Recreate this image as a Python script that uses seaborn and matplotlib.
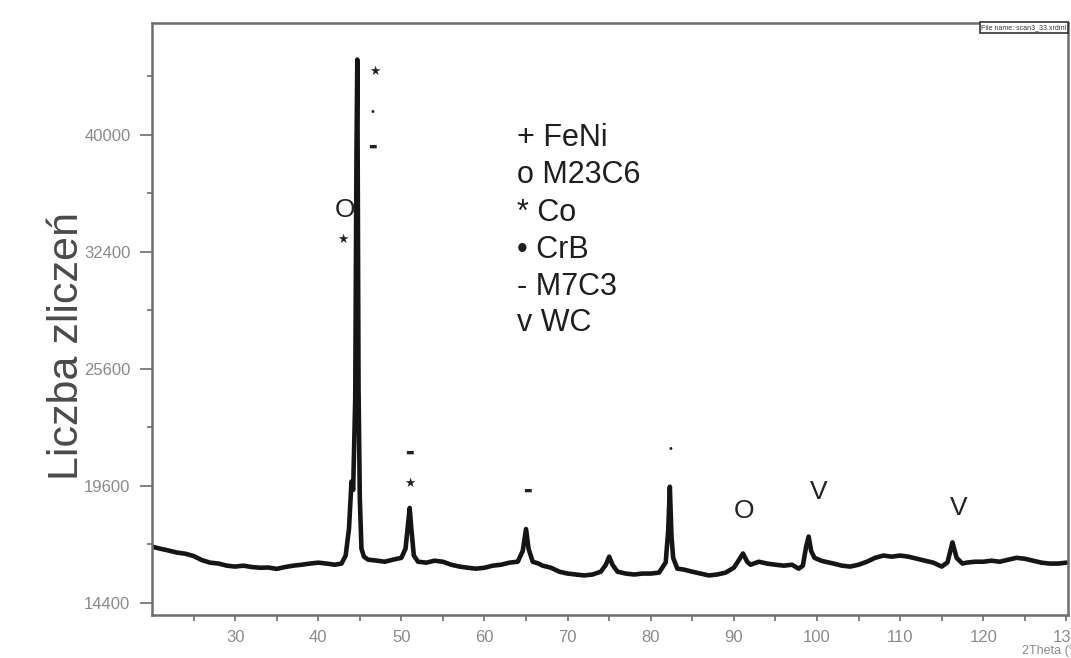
import numpy as np
import pandas as pd
import matplotlib
matplotlib.use("Agg")
import matplotlib.pyplot as plt
import seaborn as sns
from matplotlib.ticker import FixedLocator, NullFormatter

# ---- data ----
two_theta = [20.0, 21.0, 22.0, 23.0, 24.0, 25.0, 26.0, 27.0, 28.0, 29.0,
             30.0, 31.0, 32.0, 33.0, 34.0, 35.0, 36.0, 37.0, 38.0, 39.0,
             40.0, 41.0, 42.0, 42.8, 43.3, 43.7, 44.0, 44.2, 44.45, 44.6,
             44.7, 44.78, 44.85, 45.0, 45.2, 45.5, 46.0, 47.0, 48.0, 49.0,
             50.0, 50.5, 50.8, 51.0, 51.2, 51.5, 52.0, 53.0, 54.0, 55.0,
             56.0, 57.0, 58.0, 59.0, 60.0, 61.0, 62.0, 63.0, 64.0, 64.6,
             65.0, 65.3, 65.8, 66.5, 67.0, 68.0, 69.0, 70.0, 71.0, 72.0,
             73.0, 74.0, 74.6, 75.0, 75.4, 76.0, 77.0, 78.0, 79.0, 80.0,
             81.0, 81.8, 82.1, 82.3, 82.5, 82.7, 83.2, 84.0, 85.0, 86.0,
             87.0, 88.0, 89.0, 90.0, 90.6, 91.1, 91.6, 92.0, 93.0, 94.0,
             95.0, 96.0, 97.0, 97.8, 98.3, 98.7, 99.0, 99.3, 99.7, 100.5,
             101.0, 102.0, 103.0, 104.0, 105.0, 106.0, 107.0, 108.0, 109.0, 110.0,
             111.0, 112.0, 113.0, 114.0, 115.0, 115.7, 116.3, 116.8, 117.5, 118.0,
             119.0, 120.0, 121.0, 122.0, 123.0, 124.0, 125.0, 126.0, 127.0, 128.0,
             129.0, 130.0]
counts = [16790, 16700, 16620, 16530, 16480, 16380, 16200, 16090, 16050, 15960,
          15920, 15960, 15900, 15870, 15880, 15820, 15900, 15960, 16000, 16050,
          16090, 16050, 16000, 16050, 16400, 17600, 19800, 19400, 24000, 38800,
          45300, 33000, 24500, 19000, 16700, 16350, 16220, 16180, 16130, 16220,
          16300, 16700, 17800, 18550, 17600, 16400, 16130, 16090, 16175, 16130,
          16000, 15920, 15870, 15830, 15870, 15960, 16000, 16090, 16130, 16600,
          17580, 16700, 16130, 16050, 15960, 15870, 15700, 15620, 15580, 15540,
          15580, 15700, 16000, 16350, 16000, 15700, 15620, 15580, 15620, 15620,
          15660, 16100, 17500, 19550, 17240, 16300, 15830, 15790, 15700, 15620,
          15540, 15580, 15660, 15870, 16200, 16490, 16130, 16000, 16130, 16050,
          16000, 15960, 16000, 15830, 15960, 16800, 17240, 16600, 16300, 16175,
          16130, 16050, 15960, 15920, 16000, 16130, 16300, 16400, 16350, 16400,
          16350, 16260, 16175, 16090, 15920, 16100, 16980, 16300, 16050, 16090,
          16130, 16130, 16175, 16130, 16218, 16300, 16260, 16175, 16090, 16050,
          16050, 16090]

y_ticks = [14400, 19600, 25600, 32400, 40000]
y_minor = [16900, 22500, 28900, 36100, 44100]
x_ticks = [30, 40, 50, 60, 70, 80, 90, 100, 110, 120, 130]

# peak markers (2theta, counts, symbol)
mark_x = [43.2, 43.0, 46.8, 46.5, 46.5, 51.0, 51.0, 65.1, 82.4, 91.2, 100.2, 117.0]
mark_y = [35040, 33150, 44440, 41570, 39200, 21260, 19690, 19410, 21400, 18390, 19320, 18550]
mark_s = ["O", "★", "★", "•", "▬", "▬", "★", "▬", "•", "O", "V", "V"]

legend_lines = ["+ FeNi", "o M23C6", "* Co", "• CrB", "- M7C3", "v WC"]

# ---- plot ----
sns.set_theme(style="white")
plt.rcParams["font.family"] = ["Liberation Sans", "DejaVu Sans"]

fig = plt.figure(figsize=(10.71, 6.58), dpi=100)
ax = fig.add_axes([152/1071, 1-615/658, (1068-152)/1071, (615-23)/658])

df = pd.DataFrame({"2theta": two_theta, "counts": counts})
sns.lineplot(data=df, x="2theta", y="counts", ax=ax, color="#151515",
             lw=3.3, sort=False, estimator=None)

ax.set_yscale("function", functions=(lambda v: np.sqrt(np.clip(v, 0, None)), np.square))
ax.set_xlim(20, 130.2)
ax.set_ylim(13900, 48000)

ax.yaxis.set_major_locator(FixedLocator(y_ticks))
ax.yaxis.set_minor_locator(FixedLocator(y_minor))
ax.yaxis.set_minor_formatter(NullFormatter())
ax.set_yticklabels([str(v) for v in y_ticks])
ax.xaxis.set_major_locator(FixedLocator(x_ticks))
ax.xaxis.set_minor_locator(FixedLocator([25, 35, 45, 55, 65, 75, 85, 95, 105, 115, 125]))
ax.xaxis.set_minor_formatter(NullFormatter())
ax.set_xticklabels([str(v) for v in x_ticks])

ax.tick_params(axis="y", which="major", direction="out", length=8.5, width=1.3,
               color="#777777", labelsize=12, labelcolor="#8a8a8a", pad=7, left=True)
ax.tick_params(axis="y", which="minor", direction="out", length=3.5, width=1.3,
               color="#777777", left=True)
ax.tick_params(axis="x", which="major", direction="out", length=4.5, width=1.3,
               color="#777777", labelsize=12, labelcolor="#8a8a8a", pad=6, bottom=True)
ax.tick_params(axis="x", which="minor", direction="out", length=4, width=1.3,
               color="#777777", bottom=True)

for sp in ax.spines.values():
    sp.set_visible(True)
    sp.set_color("#6e6e6e")
    sp.set_linewidth(1.8)

ax.set_xlabel("")
ax.set_ylabel("Liczba zliczeń", fontsize=31, color="#4a4a4a")
ax.yaxis.set_label_coords(-0.071, 0.455)

for mx, my, s in zip(mark_x, mark_y, mark_s):
    if s in ("O", "V"):
        fs, fam = 19, ["Liberation Sans"]
    elif s == "★":
        fs, fam = 9, ["DejaVu Sans"]
    elif s == "•":
        fs, fam = 7, ["DejaVu Sans"]
    else:
        fs, fam = 6.5, ["DejaVu Sans"]
    ax.text(mx, my, s, ha="center", va="center", fontsize=fs,
            color="#222222", family=fam)

leg_y = [0.806, 0.743, 0.679, 0.617, 0.554, 0.493]
for t, yy in zip(legend_lines, leg_y):
    ax.text(0.398, yy, t, transform=ax.transAxes, ha="left", va="center",
            fontsize=22, color="#1e1e1e")

ax.text(0.9985, 0.998, "File name: scan3_33.xrdml", transform=ax.transAxes,
        ha="right", va="top", fontsize=5, color="#333333",
        bbox=dict(boxstyle="square,pad=0.25", fc="white", ec="#333333", lw=1.2))

fig.text(1022/1071, 1-651/658, "2Theta (°)", ha="left", va="center",
         fontsize=9, color="#888888")

fig.savefig("out.png", dpi=100, facecolor="white")
